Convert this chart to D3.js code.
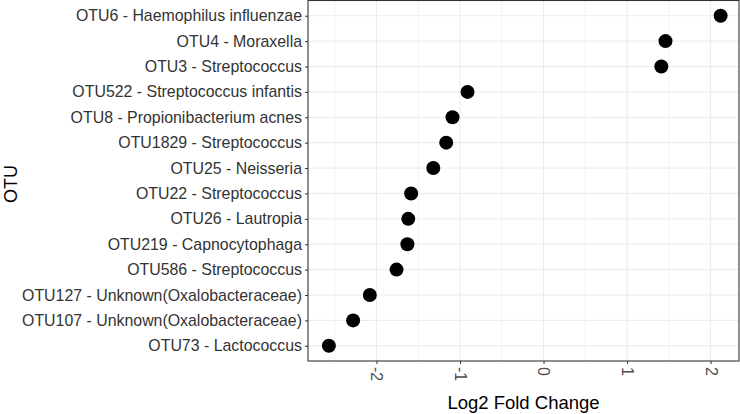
<!DOCTYPE html>
<html>
<head>
  <style>
    body { margin: 0; background: #fff; }
    svg { font-family: "Liberation Sans", Arial, sans-serif; }
    .grid line { stroke: #ebebeb; }
    .grid .minor { stroke: #f4f4f4; }
  </style>
</head>
<body>
  <svg width="740" height="414"></svg>
  <script src="https://d3js.org/d3.v7.min.js"></script>
  <script>
    // Datos (de arriba hacia abajo en el eje Y)
    const otus = [
      "OTU6 - Haemophilus influenzae",
      "OTU4 - Moraxella",
      "OTU3 - Streptococcus",
      "OTU522 - Streptococcus infantis",
      "OTU8 - Propionibacterium acnes",
      "OTU1829 - Streptococcus",
      "OTU25 - Neisseria",
      "OTU22 - Streptococcus",
      "OTU26 - Lautropia",
      "OTU219 - Capnocytophaga",
      "OTU586 - Streptococcus",
      "OTU127 - Unknown(Oxalobacteraceae)",
      "OTU107 - Unknown(Oxalobacteraceae)",
      "OTU73 - Lactococcus"
    ];
    const log2fc = [2.12, 1.46, 1.41, -0.91, -1.09, -1.165, -1.32, -1.585, -1.62, -1.63, -1.76, -2.08, -2.28, -2.57];
    const xTicks = [-2, -1, 0, 1, 2];
    const xMinor = [-2.5, -1.5, -0.5, 0.5, 1.5];

    // Configuración del gráfico
    const pLeft = 308, pRight = 739, pTop = 0.5, pBottom = 361;
    const svg = d3.select("svg");

    const x = d3.scaleLinear().domain([-2.82, 2.34]).range([pLeft, pRight]);
    const y = d3.scalePoint().domain(otus).range([pTop, pBottom]).padding(0.6);

    // Rejilla
    const grid = svg.append("g").attr("class", "grid");
    grid.selectAll(".minor").data(xMinor).enter().append("line")
      .attr("class", "minor")
      .attr("x1", d => x(d)).attr("x2", d => x(d))
      .attr("y1", pTop).attr("y2", pBottom);
    grid.selectAll(".major").data(xTicks).enter().append("line")
      .attr("class", "major")
      .attr("x1", d => x(d)).attr("x2", d => x(d))
      .attr("y1", pTop).attr("y2", pBottom);
    grid.selectAll(".hline").data(otus).enter().append("line")
      .attr("class", "hline")
      .attr("x1", pLeft).attr("x2", pRight)
      .attr("y1", d => y(d)).attr("y2", d => y(d));

    // Puntos
    svg.selectAll(".dot")
      .data(otus)
      .enter()
      .append("circle")
      .attr("class", "dot")
      .attr("cx", (d, i) => x(log2fc[i]))
      .attr("cy", d => y(d))
      .attr("r", 7)
      .attr("fill", "#000");

    // Borde del panel
    svg.append("rect")
      .attr("x", pLeft).attr("y", pTop)
      .attr("width", pRight - pLeft).attr("height", pBottom - pTop)
      .attr("fill", "none").attr("stroke", "#333").attr("stroke-width", 1.1);

    // Eje Y
    const yAxis = svg.append("g")
      .attr("transform", `translate(${pLeft},0)`)
      .call(d3.axisLeft(y).tickSize(3).tickPadding(3));
    yAxis.select(".domain").remove();
    yAxis.selectAll("line").attr("stroke", "#333");
    yAxis.selectAll("text").attr("font-size", 15.9).attr("fill", "#333").style("font-family", "Liberation Sans, Arial, sans-serif");

    // Eje X
    const xAxis = svg.append("g")
      .attr("transform", `translate(0,${pBottom})`)
      .call(d3.axisBottom(x).tickValues(xTicks).tickSize(3).tickFormat(d3.format("d")));
    xAxis.select(".domain").remove();
    xAxis.selectAll("line").attr("stroke", "#333");
    xAxis.selectAll("text")
      .attr("font-size", 15.9).attr("fill", "#4d4d4d")
      .style("font-family", "Liberation Sans, Arial, sans-serif")
      .text(d => d < 0 ? "-" + Math.abs(d) : d)
      .attr("transform", "rotate(90)")
      .attr("x", 6).attr("y", 0).attr("dy", "0.35em")
      .attr("text-anchor", "start");

    // Títulos
    svg.append("text")
      .attr("x", (pLeft + pRight) / 2).attr("y", 409)
      .attr("text-anchor", "middle")
      .attr("font-size", 18.5).attr("fill", "#000")
      .text("Log2 Fold Change");
    svg.append("text")
      .attr("transform", `translate(17,184) rotate(-90)`)
      .attr("text-anchor", "middle")
      .attr("font-size", 18).attr("fill", "#000")
      .text("OTU");
  </script>
</body>
</html>
